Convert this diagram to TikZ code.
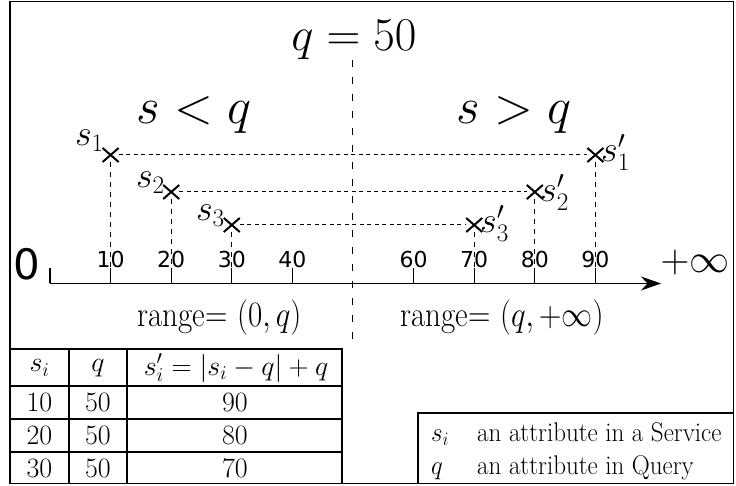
\RequirePackage{fix-cm}
\documentclass[tikz,border=0pt]{standalone}
\usepackage{graphicx}
\usepackage{fontspec}
\newfontfamily\dejavu{DejaVu Sans}
\newcommand\vstr[2]{\scalebox{1}[#1]{#2}}
\usetikzlibrary{shapes.misc,arrows.meta}
\begin{document}
\begin{tikzpicture}[x=1pt,y=-1pt,
  frame/.style={line width=1.7pt},
  bigtxt/.style={font=\fontsize{47}{50}\selectfont, inner sep=0pt},
  sidetxt/.style={font=\fontsize{51}{54}\selectfont, inner sep=0pt},
  rangetxt/.style={font=\fontsize{31}{34}\selectfont, inner sep=0pt},
  slab/.style={font=\fontsize{36}{38}\selectfont, inner sep=0pt},
  ticklab/.style={font=\dejavu\fontsize{22}{24}\selectfont, inner sep=0pt, anchor=base},
  tabtxt/.style={font=\fontsize{28}{30}\selectfont, inner sep=0pt},
  legtxt/.style={font=\fontsize{25}{27}\selectfont, inner sep=0pt},
  xmark/.style={cross out, draw, line width=2pt, minimum width=14pt, minimum height=12pt, inner sep=0pt},
  hdash/.style={dash pattern=on 4pt off 3.5pt, line width=1pt},
  vdash/.style={dash pattern=on 5pt off 5pt, line width=1pt},
  cdash/.style={dash pattern=on 7pt off 10pt, line width=0.9pt},
  tick/.style={line width=1.3pt},
  axisline/.style={line width=1.8pt, -{Stealth[length=20pt,width=14pt]}},
  tabline/.style={line width=1.3pt}
]
\useasboundingbox (0,0) rectangle (736,486);
\draw[frame] (10,1.5) rectangle (733.5,483.5);

% axis
\coordinate (t0) at (50,283.5);
\coordinate (t1) at (110.6,283.5);
\coordinate (t2) at (171.2,283.5);
\coordinate (t3) at (231.8,283.5);
\coordinate (t4) at (292.4,283.5);
\coordinate (t6) at (413.6,283.5);
\coordinate (t7) at (474.2,283.5);
\coordinate (t8) at (534.8,283.5);
\coordinate (t9) at (595.4,283.5);
\coordinate (tend) at (661,283.5);
\draw[axisline] (t0) -- (tend);
\foreach \k in {0,1,2,3,4,6,7,8,9} { \draw[tick] (t\k) -- ++(0,-15.5); }
\foreach \k/\v in {1/10,2/20,3/30,4/40,6/60,7/70,8/80,9/90} {
  \node[ticklab] (l\k) at ([yshift=15.5pt]t\k) {\v};
}
\node[font=\dejavu\fontsize{42}{46}\selectfont, inner sep=0pt] (zero) at (27,264) {0};
\node[font=\fontsize{40}{44}\selectfont, inner sep=0pt] (inf) at (695,263) {$+\infty$};

% centre line
\coordinate (ctop) at (352,60);
\coordinate (cbot) at (352,340);
\draw[cdash] (ctop) -- (cbot);
\node[bigtxt, anchor=base] (qeq) at (354,51) {$q=50$};
\node[sidetxt, anchor=base] (sl) at (194,124) {$s<q$};
\node[sidetxt, anchor=base] (sg) at (514,124) {$s>q$};

% crosses
\node[xmark] (s1) at (110.6,155) {};
\node[xmark] (s1p) at (595.4,155) {};
\node[xmark] (s2) at (171.2,192) {};
\node[xmark] (s2p) at (534.8,192) {};
\node[xmark] (s3) at (231.8,225) {};
\node[xmark] (s3p) at (474.2,225) {};
\draw[hdash] (s1) -- (s1p);
\draw[hdash] (s2) -- (s2p);
\draw[hdash] (s3) -- (s3p);
\foreach \a/\k in {s1/1,s1p/9,s2/2,s2p/8,s3/3,s3p/7} { \draw[vdash] (\a) -- (t\k); }

\node[slab, anchor=base east] (ls1) at (104,146) {$s_1$};
\node[slab, anchor=base west] (ls1p) at (601,162) {$s'_1$};
\node[slab, anchor=base east] (ls2) at (165,188) {$s_2$};
\node[slab, anchor=base west] (ls2p) at (540,202) {$s'_2$};
\node[slab, anchor=base east] (ls3) at (225,221) {$s_3$};
\node[slab, anchor=base west] (ls3p) at (480,233) {$s'_3$};

\node[rangetxt, anchor=base] (r1) at (219.5,326) {\vstr{1.15}{range= $(0,q)$}};
\node[rangetxt, anchor=base] (r2) at (502,326) {\vstr{1.15}{range= $(q,+\infty)$}};

% table
\draw[tabline] (10,349) rectangle (342,483.5);
\draw[tabline] (10,386) -- (342,386);
\draw[tabline] (10,419) -- (342,419);
\draw[tabline] (10,452) -- (342,452);
\draw[tabline] (69,349) -- (69,483.5);
\draw[tabline] (127,349) -- (127,483.5);
\node[tabtxt] (h1) at (39.5,368) {$s_i$};
\node[tabtxt] (h2) at (98,368) {$q$};
\node[tabtxt] (h3) at (236,368) {$s'_i=|s_i-q|+q$};
\foreach \y/\a/\c in {402.5/10/90,435.5/20/80,468/30/70} {
  \node[tabtxt] (a\a) at (39.5,\y) {$\a$};
  \node[tabtxt] (q\a) at (98,\y) {$50$};
  \node[tabtxt] (c\a) at (235,\y) {$\c$};
}

% legend
\draw[tabline] (418,413) rectangle (733.5,483.5);
\node[legtxt, anchor=base west] (g1) at (431,441) {\vstr{1.08}{$s_i$}};
\node[legtxt, anchor=base west] (g1t) at (477,441) {\vstr{1.08}{an attribute in a Service}};
\node[legtxt, anchor=base west] (g2) at (431,474) {\vstr{1.08}{$q$}};
\node[legtxt, anchor=base west] (g2t) at (477,474) {\vstr{1.08}{an attribute in Query}};
\end{tikzpicture}
\end{document}
